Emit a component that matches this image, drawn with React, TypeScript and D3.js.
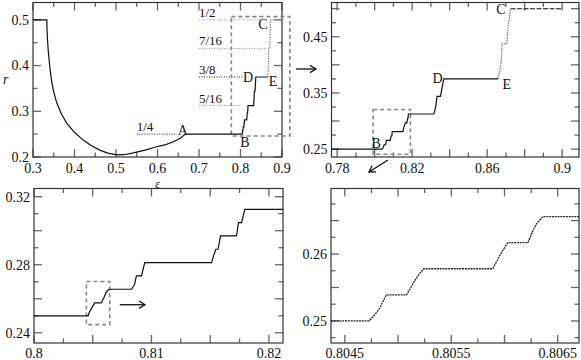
import React from "react";
import * as d3 from "d3";

// ---------- data ----------
// full curve r(eps), smooth part up to A and first plateau
const mainCurve: [number, number][] = [
  [0.3, 0.5], [0.3333, 0.5], [0.3338, 0.48], [0.335, 0.455], [0.337, 0.43], [0.339, 0.41],
  [0.342, 0.385], [0.345, 0.365], [0.35, 0.342], [0.357, 0.319], [0.368, 0.295],
  [0.381, 0.274], [0.4, 0.254], [0.421, 0.237], [0.44, 0.225], [0.461, 0.215],
  [0.48, 0.2085], [0.502, 0.2045], [0.52, 0.205], [0.542, 0.209], [0.57, 0.215],
  [0.598, 0.2225], [0.62, 0.227], [0.638, 0.2335], [0.655, 0.241], [0.667, 0.25],
];
// staircase B -> D -> E (coarse resolution)
const stairCoarse: [number, number][] = [
  [0.667, 0.25], [0.8042, 0.25], [0.8051, 0.2578], [0.8058, 0.2578], [0.8063, 0.2656],
  [0.8083, 0.2656], [0.8088, 0.2734], [0.8092, 0.2734], [0.8094, 0.28125], [0.8151, 0.28125],
  [0.8156, 0.2891], [0.8164, 0.2969], [0.8172, 0.2969], [0.8176, 0.3047], [0.8178, 0.3047],
  [0.818, 0.3125], [0.8316, 0.3125], [0.8327, 0.328], [0.8333, 0.3438], [0.8351, 0.3438],
  [0.836, 0.36], [0.8369, 0.375], [0.8659, 0.375],
];
// E -> C (dotted)
const stairUpper: [number, number][] = [
  [0.8659, 0.375], [0.8668, 0.39], [0.8675, 0.40625], [0.868, 0.4375], [0.8705, 0.4375],
  [0.8712, 0.46875], [0.8725, 0.5],
];
const topPlateau: [number, number][] = [[0.8725, 0.5], [0.8997, 0.5]];
// zoom 1 (0.80 - 0.82)
const stairMid: [number, number][] = [
  [0.8, 0.25], [0.8046, 0.25], [0.80474, 0.2525], [0.80517, 0.2576], [0.80574, 0.2576],
  [0.80594, 0.2604], [0.80617, 0.2643], [0.80639, 0.2656], [0.8083, 0.2656], [0.80855, 0.2682],
  [0.80872, 0.2734], [0.80915, 0.2734], [0.80943, 0.28125], [0.81511, 0.28125], [0.8153, 0.2855],
  [0.81548, 0.2891], [0.81567, 0.2891], [0.81588, 0.2969], [0.81724, 0.2969], [0.81741, 0.3047],
  [0.81767, 0.3047], [0.81795, 0.3125], [0.8212, 0.3125],
];
// zoom 2 (0.8044 - 0.8067)
const stairFine: [number, number][] = [
  [0.80437, 0.25], [0.80473, 0.25], [0.8048, 0.2513], [0.80483, 0.252], [0.80489, 0.2539],
  [0.80508, 0.2539], [0.80513, 0.2553], [0.80518, 0.2566], [0.80524, 0.2578], [0.80589, 0.2578],
  [0.80594, 0.2593], [0.80597, 0.2602], [0.80603, 0.2617], [0.80622, 0.2617], [0.80627, 0.2636],
  [0.8063, 0.2645], [0.80636, 0.2656], [0.8067, 0.2656],
];

const fracLabels = ["1/2", "7/16", "3/8", "5/16", "1/4"];
const fracValues = [0.5, 0.4375, 0.375, 0.3125, 0.25];
const fracFrom = [0.7, 0.7, 0.7, 0.7, 0.55];
const fracTo = [0.847, 0.864, 0.806, 0.8, 0.647];
const fracColors = ["#999", "#999", "#222", "#999", "#222"];

const pointNames = ["A", "B", "C", "D", "E"];

// tick labels
const tlXLabels = [0.3, 0.4, 0.5, 0.6, 0.7, 0.8, 0.9];
const tlYLabels = [0.2, 0.3, 0.4, 0.5];
const trXLabels = [0.78, 0.82, 0.86, 0.9];
const trYLabels = [0.25, 0.35, 0.45];
const blXLabels = [0.8, 0.81, 0.82];
const blYLabels = [0.24, 0.28, 0.32];
const brXLabels = [0.8045, 0.8055, 0.8065];
const brYLabels = [0.25, 0.26];

// ---------- layout ----------
type Spec = {
  l: number; r: number; t: number; b: number;
  xd: [number, number]; yd: [number, number];
  xMaj: number; xMin: number; yMaj: number; yMin: number;
  xLab: number[]; yLab: number[]; xLabDy: number;
};

const TL: Spec = { l: 33, r: 282, t: 2.5, b: 157, xd: [0.3, 0.9], yd: [0.2, 0.5379], xMaj: 0.1, xMin: 0.05, yMaj: 0.1, yMin: 0.05, xLab: tlXLabels, yLab: tlYLabels, xLabDy: 16 };
const TR: Spec = { l: 331.5, r: 579, t: 2.5, b: 157, xd: [0.777, 0.909], yd: [0.236, 0.511], xMaj: 0.02, xMin: 0.01, yMaj: 0.05, yMin: 0.025, xLab: trXLabels, yLab: trYLabels, xLabDy: 16 };
const BL: Spec = { l: 34, r: 283, t: 188.5, b: 343, xd: [0.8, 0.8212], yd: [0.234, 0.3248], xMaj: 0.005, xMin: 0.0025, yMaj: 0.02, yMin: 0.01, xLab: blXLabels, yLab: blYLabels, xLabDy: 15 };
const BR: Spec = { l: 331, r: 579, t: 188.5, b: 343, xd: [0.80437, 0.8067], yd: [0.2467, 0.2698], xMaj: 0.0005, xMin: 0.00025, yMaj: 0.005, yMin: 0.0025, xLab: brXLabels, yLab: brYLabels, xLabDy: 15 };

const FONT = "'Liberation Serif', 'Times New Roman', 'DejaVu Serif', serif";

function scales(s: Spec) {
  return {
    x: d3.scaleLinear().domain(s.xd).range([s.l, s.r]),
    y: d3.scaleLinear().domain(s.yd).range([s.b, s.t]),
  };
}

function ticksBy(d: [number, number], step: number) {
  const a = Math.ceil(d[0] / step - 1e-6);
  const b = Math.floor(d[1] / step + 1e-6);
  return d3.range(a, b + 1).map((i) => +(i * step).toFixed(9));
}

function fmt(v: number) {
  return String(parseFloat(v.toFixed(6)));
}

function Frame({ s }: { s: Spec }) {
  const { x, y } = scales(s);
  const maj = 8, min = 4.5;
  const tickCol = "#666";
  const els: React.ReactNode[] = [];
  const xMajT = ticksBy(s.xd, s.xMaj);
  const xMinT = ticksBy(s.xd, s.xMin).filter((v) => !xMajT.some((m) => Math.abs(m - v) < s.xMin / 10));
  const yMajT = ticksBy(s.yd, s.yMaj);
  const yMinT = ticksBy(s.yd, s.yMin).filter((v) => !yMajT.some((m) => Math.abs(m - v) < s.yMin / 10));
  const addX = (v: number, len: number, k: string) => {
    const px = x(v);
    els.push(<line key={"xb" + k + v} x1={px} x2={px} y1={s.b} y2={s.b - len} stroke={tickCol} strokeWidth={1.3} />);
    els.push(<line key={"xt" + k + v} x1={px} x2={px} y1={s.t} y2={s.t + len} stroke={tickCol} strokeWidth={1.3} />);
  };
  const addY = (v: number, len: number, k: string) => {
    const py = y(v);
    els.push(<line key={"yl" + k + v} x1={s.l} x2={s.l + len} y1={py} y2={py} stroke={tickCol} strokeWidth={1.3} />);
    els.push(<line key={"yr" + k + v} x1={s.r} x2={s.r - len} y1={py} y2={py} stroke={tickCol} strokeWidth={1.3} />);
  };
  xMajT.forEach((v) => addX(v, maj, "M"));
  xMinT.forEach((v) => addX(v, min, "m"));
  yMajT.forEach((v) => addY(v, maj, "M"));
  yMinT.forEach((v) => addY(v, min, "m"));
  return (
    <g>
      {els}
      <rect x={s.l} y={s.t} width={s.r - s.l} height={s.b - s.t} fill="none" stroke="#333" strokeWidth={1.2} />
      {s.xLab.map((v) => (
        <text key={"xl" + v} x={x(v)} y={s.b + s.xLabDy} textAnchor="middle" fontSize={14} fontFamily={FONT} fill="#111">{fmt(v)}</text>
      ))}
      {s.yLab.map((v) => (
        <text key={"yl" + v} x={s.l - 4} y={y(v)} dy="0.35em" textAnchor="end" fontSize={14} fontFamily={FONT} fill="#111">{fmt(v)}</text>
      ))}
    </g>
  );
}

function Arrow({ x1, y1, x2, y2 }: { x1: number; y1: number; x2: number; y2: number }) {
  const ang = Math.atan2(y2 - y1, x2 - x1);
  const hl = 7, ha = 0.55;
  const p1 = [x2 - hl * Math.cos(ang - ha), y2 - hl * Math.sin(ang - ha)];
  const p2 = [x2 - hl * Math.cos(ang + ha), y2 - hl * Math.sin(ang + ha)];
  return (
    <g stroke="#111" strokeWidth={1.3} fill="none">
      <line x1={x1} y1={y1} x2={x2} y2={y2} />
      <polyline points={`${p1[0]},${p1[1]} ${x2},${y2} ${p2[0]},${p2[1]}`} />
    </g>
  );
}

export default function App() {
  const tl = scales(TL), tr = scales(TR), bl = scales(BL), br = scales(BR);
  const line = (sc: { x: d3.ScaleLinear<number, number>; y: d3.ScaleLinear<number, number> }) =>
    d3.line<[number, number]>().x((d) => sc.x(d[0])).y((d) => sc.y(d[1]));
  const ltl = line(tl), ltr = line(tr), lbl = line(bl), lbr = line(br);

  const boxStyle = { fill: "none", stroke: "#888", strokeWidth: 1.6, strokeDasharray: "4,3" };
  const box = (sc: any, x0: number, x1: number, y0: number, y1: number) => ({
    x: sc.x(x0), y: sc.y(y1), width: sc.x(x1) - sc.x(x0), height: sc.y(y0) - sc.y(y1),
  });

  // point label anchor data (eps, r) per panel
  const tlPts: [number, number][] = [[0.661, 0.25], [0.8108, 0.25], [0.8542, 0.5], [0.8181, 0.375], [0.8783, 0.375]];
  const tlDy = [1, 13, 9, 5, 9];
  const trPts: [number, number][] = [[0.8008, 0.25], [0.8335, 0.375], [0.8674, 0.5], [0.8705, 0.375]];
  const trNames = ["B", "D", "C", "E"];
  const trDy = [-1, 4, 5, 10];

  return (
    <svg width={581} height={360} style={{ position: "absolute", left: 0, top: 0, background: "#fff" }}>
      <rect x={0} y={0} width={581} height={360} fill="#fff" />
      {/* ---------------- top-left ---------------- */}
      <Frame s={TL} />
      {fracLabels.map((lab, i) => (
        <g key={lab}>
          <line x1={tl.x(fracFrom[i])} x2={tl.x(fracTo[i])} y1={tl.y(fracValues[i])} y2={tl.y(fracValues[i])}
            stroke={fracColors[i]} strokeWidth={1} strokeDasharray="1,1.5" />
          <text x={tl.x(fracFrom[i])} y={tl.y(fracValues[i]) - 3} fontSize={13} fontFamily={FONT} fill="#111">{lab}</text>
        </g>
      ))}
      <rect {...box(tl, 0.778, 0.919, 0.246, 0.507)} {...boxStyle} />
      <path d={ltl(mainCurve)!} fill="none" stroke="#111" strokeWidth={1.2} />
      <path d={ltl(stairCoarse)!} fill="none" stroke="#111" strokeWidth={1.2} />
      <path d={ltl(stairUpper)!} fill="none" stroke="#888" strokeWidth={1.2} strokeDasharray="1.5,1" />
      <path d={ltl(topPlateau)!} fill="none" stroke="#888" strokeWidth={1} strokeDasharray="1.5,1" />
      {pointNames.map((n, i) => (
        <text key={n} x={tl.x(tlPts[i][0])} y={tl.y(tlPts[i][1]) + tlDy[i]} textAnchor="middle" fontSize={14} fontFamily={FONT} fill="#111">{n}</text>
      ))}
      <text x={3} y={84} fontSize={14} fontStyle="italic" fontFamily={FONT} fill="#111">r</text>
      <text x={(TL.l + TL.r) / 2} y={187.5} textAnchor="middle" fontSize={12} fontStyle="italic" fontFamily={FONT} fill="#111">ε</text>
      <Arrow x1={296} y1={69} x2={316} y2={69} />

      {/* ---------------- top-right ---------------- */}
      <Frame s={TR} />
      <rect {...box(tr, 0.7992, 0.8191, 0.241, 0.3206)} {...boxStyle} />
      <path d={ltr(stairCoarse.filter((d) => d[0] > 0.7))!} fill="none" stroke="#111" strokeWidth={1.2} />
      <path d={ltr([[0.777, 0.25], [0.8042, 0.25]])!} fill="none" stroke="#111" strokeWidth={1.2} />
      <path d={ltr(stairUpper)!} fill="none" stroke="#777" strokeWidth={1.2} strokeDasharray="1.5,1" />
      <path d={ltr(topPlateau)!} fill="none" stroke="#111" strokeWidth={1.1} strokeDasharray="5,1.5" />
      {trNames.map((n, i) => (
        <text key={n} x={tr.x(trPts[i][0])} y={tr.y(trPts[i][1]) + trDy[i]} textAnchor="middle" fontSize={14} fontFamily={FONT} fill="#111">{n}</text>
      ))}
      <Arrow x1={388} y1={160} x2={369} y2={172} />

      {/* ---------------- bottom-left ---------------- */}
      <Frame s={BL} />
      <rect {...box(bl, 0.80446, 0.80645, 0.2448, 0.2701)} {...boxStyle} />
      <path d={lbl(stairMid)!} fill="none" stroke="#111" strokeWidth={1.2} />
      <Arrow x1={bl.x(0.8073)} y1={bl.y(0.2565)} x2={bl.x(0.80945)} y2={bl.y(0.2565)} />

      {/* ---------------- bottom-right ---------------- */}
      <Frame s={BR} />
      <path d={lbr(stairFine)!} fill="none" stroke="#222" strokeWidth={1.3} strokeDasharray="2,0.8" />
    </svg>
  );
}
